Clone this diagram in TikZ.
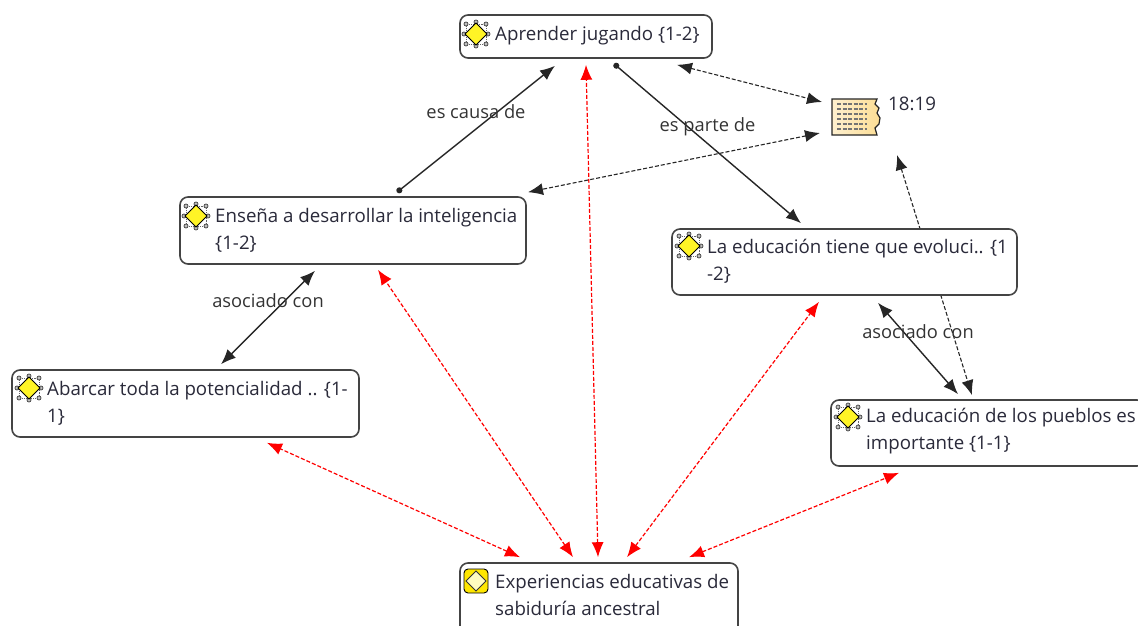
\documentclass[tikz,border=0pt]{standalone}
\usepackage{fontspec}
\setmainfont{Open Sans}
\usetikzlibrary{arrows.meta,backgrounds}

\definecolor{codeyellow}{HTML}{FFF200}
\definecolor{notepaper}{HTML}{FCDD94}
\definecolor{boxline}{HTML}{444444}
\definecolor{inktext}{HTML}{2A2A3A}

\tikzset{
  codebox/.style={draw=boxline,line width=1.6pt,rounded corners=8pt,fill=white},
  nametext/.style={anchor=west,align=left,text=inktext,inner sep=0pt,font=\fontsize{18.7}{27}\selectfont},
  rellabel/.style={text=black!80,inner sep=0pt,yshift=17pt,font=\fontsize{18.3}{20}\selectfont},
  both/.style={{Latex[length=15pt,width=12pt]}-{Latex[length=15pt,width=12pt]}},
  dotarrow/.style={{Circle[length=6pt,width=6pt]}-{Latex[length=15pt,width=12pt]}},
  codeicon/.pic={
    \draw[black!60,line width=0.9pt,densely dotted] (-10,-10) rectangle (10,10);
    \foreach \a/\b in {-10/-10,10/-10,-10/10,10/10,0/-12,0/12,-12/0,12/0}
      \draw[black!75,fill=black!25,line width=0.7pt] (\a,\b) circle (2pt);
    \draw[black,fill=codeyellow!85!white,line width=0.9pt] (-11,0) -- (0,-11) -- (11,0) -- (0,11) -- cycle;
  },
  rooticon/.pic={
    \draw[black,fill=codeyellow!90!orange,line width=0.9pt,rounded corners=4pt] (-12,-12) rectangle (12,12);
    \draw[black!80,fill=codeyellow!25,line width=0.9pt] (-10,0) -- (0,-10) -- (10,0) -- (0,10) -- cycle;
  },
  noteicon/.pic={
    \draw[black!85,left color=notepaper!45,right color=notepaper,line width=1.2pt]
      (-23,-18) -- (22,-18) -- (20,-13) -- (24,-9) -- (22,-4) -- (25,1) -- (24,7) -- (20,11) -- (22,18) -- (-23,18) -- cycle;
    \foreach \yy in {-13,-8,-3,2,7,12}
      \draw[black!55,line width=1.1pt,dash pattern=on 4pt off 1.5pt] (-18,\yy) -- (12,\yy);
  }
}

\begin{document}
\begin{tikzpicture}[x=1pt,y=-1pt]

      \useasboundingbox (0,0) rectangle (1138,626);
      \clip (0,0) rectangle (1138,626);

      \begin{scope}[every node/.style={codebox}]
        \node[minimum width=252pt,minimum height=43pt] (aprender) at (586,36.5) {};
        \node[minimum width=346pt,minimum height=67pt] (ensena) at (353,230.5) {};
        \node[minimum width=345pt,minimum height=66pt] (evoluci) at (844.5,262) {};
        \node[minimum width=347pt,minimum height=67pt] (abarcar) at (185.5,403.5) {};
        \node[minimum width=314pt,minimum height=66pt] (pueblos) at (988,433) {};
        \node[minimum width=278pt,minimum height=80pt] (experien) at (599,603) {};
      \end{scope}

      \node[minimum width=46pt,minimum height=36pt,inner sep=0pt] (memo) at (855,117) {};
      \pic at (855,117) {noteicon};

      \pic at (476,34) {codeicon};
      \pic at (196,216) {codeicon};
      \pic at (689,246) {codeicon};
      \pic at (29,388) {codeicon};
      \pic at (848,417) {codeicon};
      \pic at (476,581) {rooticon};

      \begin{scope}[every node/.style={nametext}]
        \node (aprendertxt) at (495,35.5) {Aprender jugando \{1-2\}};
        \node (ensenatxt) at (215,230) {Enseña a desarrollar la inteligencia\\\{1-2\}};
        \node (evolucitxt) at (707,261) {La educación tiene que evoluci.. \{1\\-2\}};
        \node (abarcartxt) at (47,403) {Abarcar toda la potencialidad .. \{1-\\1\}};
        \node (pueblostxt) at (866,431) {La educación de los pueblos es\\importante \{1-1\}};
        \node (experientxt) at (495,595) {Experiencias educativas de\\sabiduría ancestral};
        \node (memotxt) at (888,104) {18:19};
      \end{scope}

      \begin{scope}[every node/.style={rellabel}]

        \begin{scope}[every edge/.style={draw,line width=1.4pt,black!85}]
          \path ([xshift=44pt,yshift=4pt]ensena.north) edge[dotarrow] node {es causa de} ([xshift=-31pt,yshift=-7pt]aprender.south);
          \path ([xshift=28pt,yshift=-5pt]aprender.south) edge[dotarrow] node {es parte de} ([xshift=-43.5pt,yshift=5pt]evoluci.north);
          \path ([xshift=-38pt,yshift=-6pt]ensena.south) edge[both] node {asociado con} ([xshift=35.5pt,yshift=5pt]abarcar.north);
          \path ([xshift=33.5pt,yshift=-7pt]evoluci.south) edge[both] node {asociado con} ([xshift=-30pt,yshift=5pt]pueblos.north);
        \end{scope}

        \begin{scope}[every edge/.style={draw,dash pattern=on 4pt off 2pt,line width=1.1pt,black!85}]
          \path ([xshift=91pt,yshift=-6pt]aprender.south) edge[both] ([xshift=-33pt,yshift=15pt]memo.center);
          \path ([xshift=-35pt,yshift=-16pt]memo.center) edge[both] ([xshift=175pt,yshift=4pt]ensena.north);
          \begin{pgfonlayer}{background}
            \path ([xshift=42pt,yshift=-38pt]memo.center) edge[both] ([xshift=-16pt,yshift=4pt]pueblos.north);
          \end{pgfonlayer}
        \end{scope}

        \begin{scope}[every edge/.style={draw,dash pattern=on 4pt off 2pt,line width=1.2pt,red}]
          \path ([xshift=-79pt,yshift=5pt]experien.north) edge[both] ([xshift=81.5pt,yshift=-5pt]abarcar.south);
          \path ([xshift=-26pt,yshift=5pt]experien.north) edge[both] ([xshift=25pt,yshift=-5pt]ensena.south);
          \path ([xshift=-1pt,yshift=5pt]experien.north) edge[both] ([yshift=-6pt]aprender.south);
          \path ([xshift=28pt,yshift=5pt]experien.north) edge[both] ([xshift=-25.5pt,yshift=-6pt]evoluci.south);
          \path ([xshift=90pt,yshift=5pt]experien.north) edge[both] ([xshift=-89pt,yshift=-6pt]pueblos.south);
        \end{scope}

      \end{scope}

    \end{tikzpicture}
\end{document}
